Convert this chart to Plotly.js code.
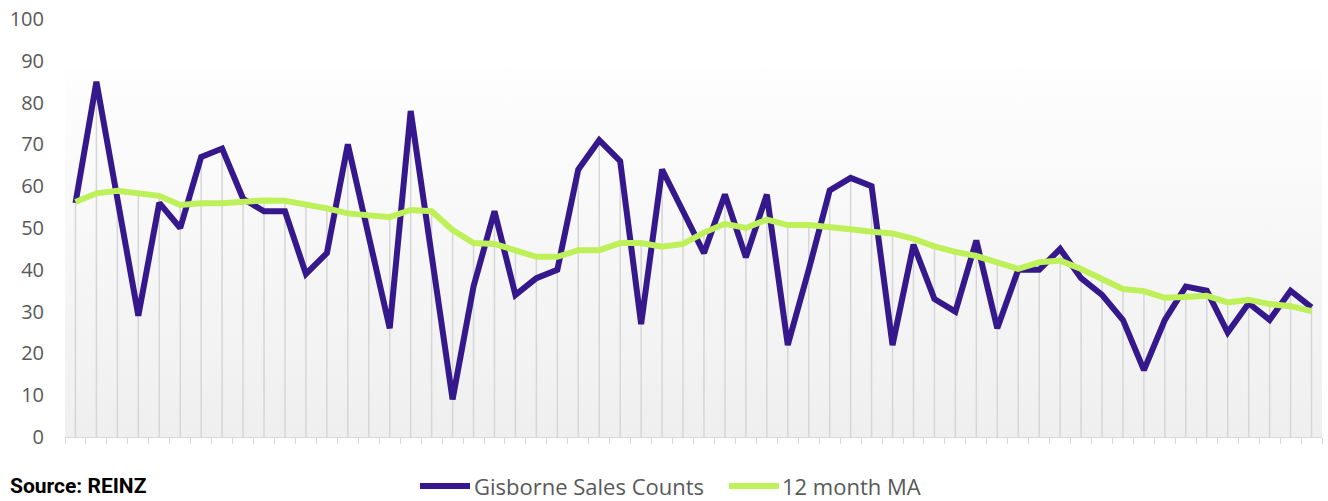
<!DOCTYPE html>
<html>
<head>
<meta charset="utf-8">
<script src="https://cdn.plot.ly/plotly-3.0.1.min.js"></script>
<style>
  html, body { margin: 0; padding: 0; background: #ffffff; }
  #chart { width: 1328px; height: 501px; }
</style>
</head>
<body>
<div id="chart"></div>
<script>
// Monthly periods (no labels shown in the original)
const periods = Array.from({length: 60}, (_, i) => 'P' + (i + 1));

const salesCounts = [56,85,57,29,56,50,67,69,57,54,54,39,44,70,48,26,78,44,9,36,
                     54,34,38,40,64,71,66,27,64,54,44,58,43,58,22,40,59,62,60,22,
                     46,33,30,47,26,40,40,45,38,34,28,16,28,36,35,25,32,28,35,31];

const movingAvg12 = [56.2,58.3,58.9,58.3,57.7,55.5,55.9,55.9,56.2,56.6,
                     56.5,55.7,54.7,53.5,52.9,52.6,54.3,54.0,49.5,46.4,
                     46.2,44.5,43.1,43.1,44.7,44.7,46.4,46.4,45.5,46.2,
                     48.9,51.0,50.0,52.0,50.7,50.7,50.3,49.7,49.1,48.7,
                     47.4,45.6,44.3,43.3,41.8,40.2,41.8,42.2,40.2,37.8,
                     35.4,34.9,33.3,33.5,33.8,32.2,32.8,31.8,31.3,30.1];

const yTicks = [0,10,20,30,40,50,60,70,80,90,100];

const seriesNames = ['Gisborne Sales Counts', '12 month MA'];
const seriesColors = ['#35198C', '#BEF05A'];

// Drop lines (from axis to the highest of the two series at each period)
const dropX = [], dropY = [];
periods.forEach((p, i) => {
  dropX.push(p, p, null);
  dropY.push(0, Math.max(salesCounts[i], movingAvg12[i]), null);
});

const FONT = '"Open Sans", Lato, sans-serif';

const traces = [
  {
    x: dropX, y: dropY, type: 'scatter', mode: 'lines',
    line: {color: '#d6d6d6', width: 1.5},
    hoverinfo: 'skip', showlegend: false
  },
  {
    x: periods, y: salesCounts, type: 'scatter', mode: 'lines',
    name: seriesNames[0],
    line: {color: seriesColors[0], width: 6}
  },
  {
    x: periods, y: movingAvg12, type: 'scatter', mode: 'lines',
    name: seriesNames[1],
    line: {color: seriesColors[1], width: 6}
  }
];

const gradSvg = '<svg xmlns="http://www.w3.org/2000/svg" width="100" height="100" preserveAspectRatio="none">' +
  '<defs><linearGradient id="g" x1="0" y1="0" x2="0" y2="1">' +
  '<stop offset="0" stop-color="#fefefe"/><stop offset="1" stop-color="#efefef"/>' +
  '</linearGradient></defs><rect width="100" height="100" fill="url(#g)"/></svg>';

// Custom legend placement (paper coordinates)
const legY = -0.1172;
const legendItems = [
  {x0: 0.2824, x1: 0.3222, tx: 0.3238},
  {x0: 0.5282, x1: 0.5680, tx: 0.5690}
];

const shapes = legendItems.map((it, k) => ({
  type: 'line', xref: 'paper', yref: 'paper',
  x0: it.x0, x1: it.x1, y0: legY, y1: legY,
  line: {color: seriesColors[k], width: 6}
}));

const annotations = legendItems.map((it, k) => ({
  text: seriesNames[k], xref: 'paper', yref: 'paper',
  x: it.tx, xanchor: 'left', y: legY, yanchor: 'middle', showarrow: false,
  font: {family: FONT, size: 22, color: '#595959'}
}));

annotations.push({
  text: '<b>Source: REINZ</b>',
  xref: 'paper', yref: 'paper', x: -0.0454, xanchor: 'left',
  y: -0.117, yanchor: 'middle', showarrow: false,
  font: {family: 'Roboto, sans-serif', size: 21, color: '#000000'}
});

const layout = {
  width: 1328, height: 501,
  margin: {l: 65, r: 6, t: 19, b: 64},
  paper_bgcolor: '#ffffff',
  plot_bgcolor: 'rgba(0,0,0,0)',
  font: {family: FONT, color: '#595959', size: 18},
  showlegend: false,
  xaxis: {
    type: 'category',
    range: [-0.5, 59.5],
    showticklabels: false,
    tickson: 'boundaries',
    ticks: 'outside', ticklen: 6, tickcolor: '#d9d9d9', tickwidth: 1,
    showgrid: false, zeroline: false,
    showline: true, linecolor: '#d9d9d9', linewidth: 1
  },
  yaxis: {
    range: [0, 100],
    tickvals: yTicks,
    ticktext: yTicks.map(String),
    showgrid: false, zeroline: false, showline: false,
    ticks: '', ticklabelstandoff: 20,
    tickfont: {family: FONT, size: 20, color: '#595959'}
  },
  images: [{
    source: 'data:image/svg+xml;charset=utf-8,' + encodeURIComponent(gradSvg),
    xref: 'paper', yref: 'paper', x: 0, y: 0.883, sizex: 1, sizey: 0.883,
    xanchor: 'left', yanchor: 'top', sizing: 'stretch', layer: 'below'
  }],
  shapes: shapes,
  annotations: annotations
};

Plotly.newPlot('chart', traces, layout, {displayModeBar: false, staticPlot: true});
</script>
</body>
</html>
